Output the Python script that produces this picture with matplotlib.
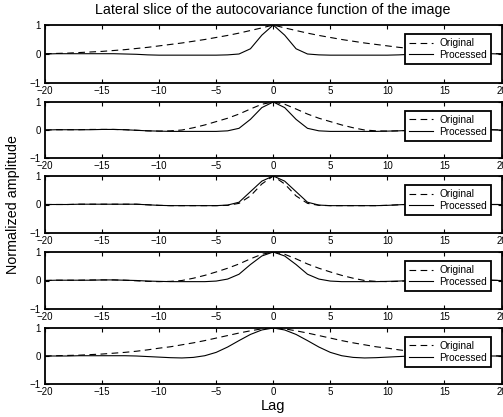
import numpy as np
import matplotlib
matplotlib.use("Agg")
import matplotlib.pyplot as plt

plt.rcParams['font.family'] = ['Liberation Sans', 'DejaVu Sans']

# Lags 0..20 (curves are symmetric about lag 0)
lag_half = list(range(0, 21))

orig_1 = [1.0, 0.9, 0.81, 0.72, 0.64, 0.57, 0.5, 0.44, 0.38, 0.33, 0.28,
          0.23, 0.19, 0.15, 0.12, 0.09, 0.07, 0.05, 0.03, 0.02, 0.01]
proc_1 = [1.0, 0.65, 0.18, 0.0, -0.03, -0.04, -0.04, -0.04, -0.04, -0.04, -0.04,
          -0.03, -0.01, 0.0, 0.01, 0.01, 0.01, 0.01, 0.01, 0.01, 0.0]

orig_2 = [1.0, 0.92, 0.75, 0.57, 0.42, 0.3, 0.18, 0.08, 0.0, -0.03, -0.04,
          -0.03, -0.01, 0.01, 0.02, 0.02, 0.02, 0.01, 0.01, 0.01, 0.0]
proc_2 = [1.0, 0.8, 0.38, 0.06, -0.03, -0.05, -0.05, -0.05, -0.05, -0.05, -0.04,
          -0.03, -0.01, 0.01, 0.02, 0.02, 0.01, 0.01, 0.01, 0.01, 0.0]

orig_3 = [1.0, 0.72, 0.3, 0.04, -0.03, -0.04, -0.04, -0.04, -0.04, -0.04, -0.03,
          -0.01, 0.01, 0.01, 0.01, 0.01, 0.01, 0.01, 0.0, 0.0, 0.0]
proc_3 = [1.0, 0.82, 0.45, 0.08, -0.02, -0.04, -0.04, -0.04, -0.04, -0.04, -0.03,
          -0.01, 0.01, 0.01, 0.01, 0.01, 0.01, 0.01, 0.0, 0.0, 0.0]

orig_4 = [1.0, 0.92, 0.76, 0.58, 0.43, 0.3, 0.18, 0.08, 0.0, -0.03, -0.04,
          -0.03, -0.01, 0.01, 0.02, 0.02, 0.02, 0.01, 0.01, 0.01, 0.0]
proc_4 = [1.0, 0.86, 0.56, 0.22, 0.05, -0.02, -0.04, -0.04, -0.04, -0.04, -0.03,
          -0.02, 0.0, 0.01, 0.02, 0.02, 0.01, 0.01, 0.01, 0.01, 0.0]

orig_5 = [1.0, 0.97, 0.9, 0.82, 0.73, 0.64, 0.55, 0.47, 0.4, 0.33, 0.28,
          0.22, 0.17, 0.13, 0.1, 0.07, 0.05, 0.03, 0.02, 0.01, 0.0]
proc_5 = [1.0, 0.93, 0.77, 0.55, 0.32, 0.13, 0.01, -0.05, -0.07, -0.06, -0.04,
          -0.02, 0.0, 0.01, 0.01, 0.01, 0.01, 0.01, 0.0, 0.0, 0.0]

originals = [orig_1, orig_2, orig_3, orig_4, orig_5]
processed = [proc_1, proc_2, proc_3, proc_4, proc_5]

xticks = [-20, -15, -10, -5, 0, 5, 10, 15, 20]
yticks = [-1, 0, 1]
legend_labels = ["Original", "Processed"]
title = "Lateral slice of the autocovariance function of the image"


def full(h):
    h = np.asarray(h, dtype=float)
    return np.concatenate([h[:0:-1], h])


lag = np.concatenate([-np.asarray(lag_half[:0:-1]), np.asarray(lag_half)])

W, H = 503, 417
fig = plt.figure(figsize=(W / 100, H / 100), dpi=100)

tops = [25, 102, 176, 252, 328]
bots = [83, 158, 233, 309, 384]
left_px, right_px = 45, 501.5

for i in range(5):
    ax = fig.add_axes([left_px / W, 1 - bots[i] / H,
                       (right_px - left_px) / W, (bots[i] - tops[i]) / H])
    l1, = ax.plot(lag, full(originals[i]), color='black', lw=0.8,
                  linestyle=(0, (6, 4)))
    l2, = ax.plot(lag, full(processed[i]), color='black', lw=0.8)
    ax.set_xlim(-20, 20)
    ax.set_ylim(-1, 1)
    ax.set_xticks(xticks)
    ax.set_xticklabels([f"\u2212{abs(t)}" if t < 0 else str(t) for t in xticks])
    ax.set_yticks(yticks)
    ax.set_yticklabels([f"\u2212{abs(t)}" if t < 0 else str(t) for t in yticks])
    ax.tick_params(direction='in', top=True, right=True, length=3, width=0.8,
                   labelsize=7, pad=2.5)
    ax.tick_params(axis='y', pad=3)
    for s in ax.spines.values():
        s.set_linewidth(1.3)
    leg = ax.legend([l1, l2], legend_labels, loc='upper right', fontsize=7.3,
                    frameon=True, fancybox=False, framealpha=1,
                    edgecolor='black', borderpad=0.4, labelspacing=0.15,
                    handlelength=2.4, handletextpad=0.6,
                    bbox_to_anchor=(0.988, 0.93))
    leg.get_frame().set_linewidth(1.3)

fig.text(273 / W, 1 - 10 / H, title, ha='center', va='center', fontsize=10.3)
fig.text(13 / W, 1 - 205 / H, "Normalized amplitude", rotation=90,
         ha='center', va='center', fontsize=10.3)
fig.text(273 / W, 1 - 406 / H, "Lag", ha='center', va='center', fontsize=10.5)

fig.savefig("out.png", dpi=100)
